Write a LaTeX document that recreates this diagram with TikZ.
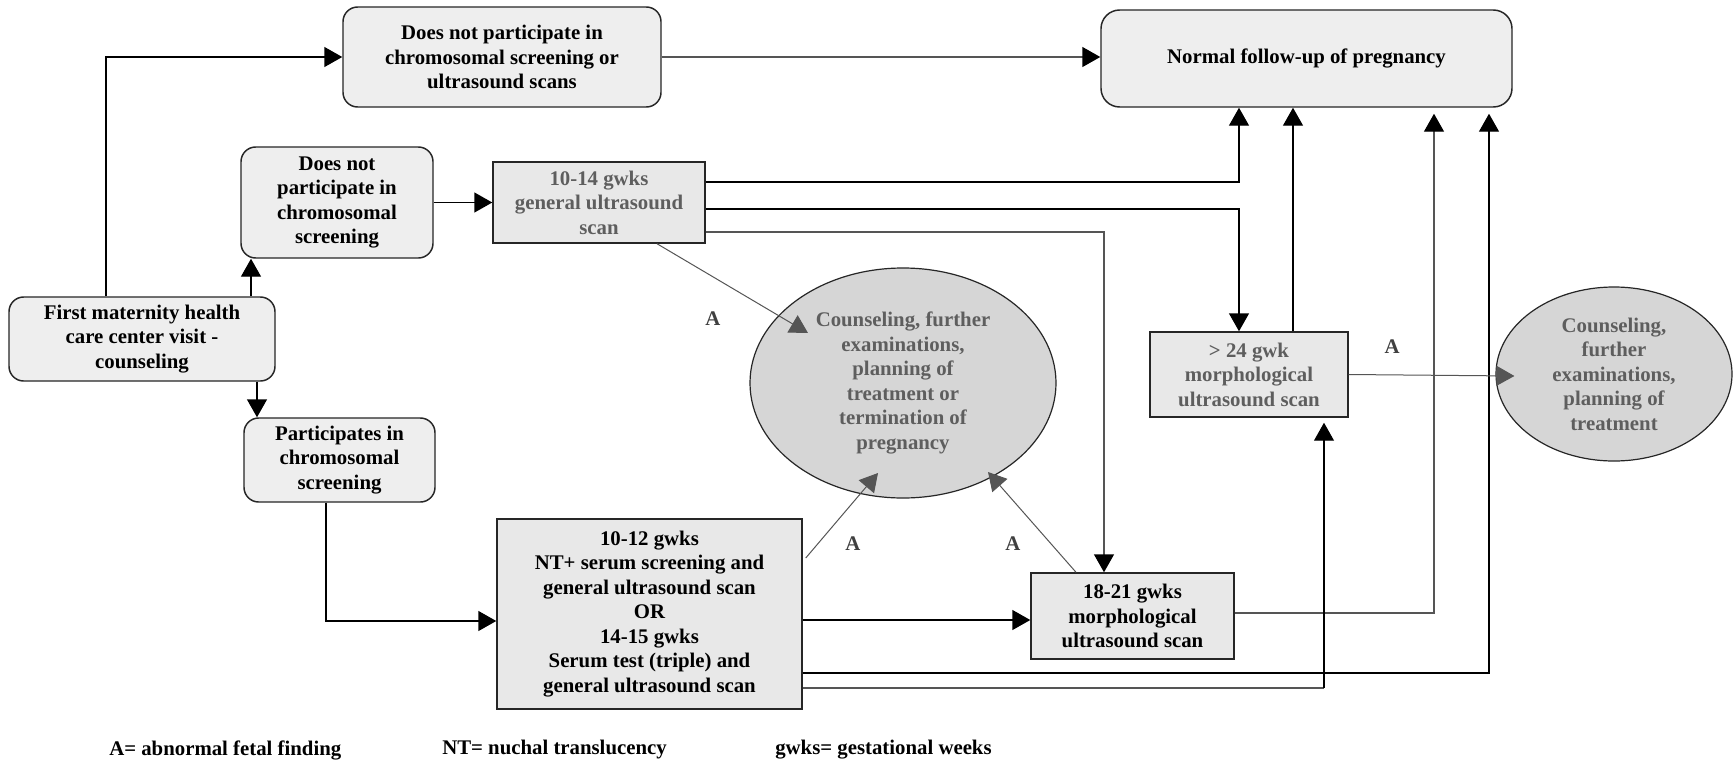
\documentclass[tikz,border=0pt]{standalone}
\usepackage{fontspec}
\setmainfont{Liberation Serif}
\usetikzlibrary{arrows.meta,calc,shapes.geometric}
\definecolor{rfill}{HTML}{EEEEEE}
\definecolor{sfill}{HTML}{E8E8E8}
\definecolor{efill}{HTML}{D6D6D6}
\definecolor{gtext}{HTML}{5E5E5E}
\definecolor{glinec}{HTML}{555555}
\begin{document}
\begin{tikzpicture}[x=0.75pt,y=-0.75pt,
  base/.style={font=\fontsize{15.6}{18.4}\selectfont\bfseries, align=center, inner sep=0pt, line width=1.1pt, draw=black!85},
  rbox/.style={base, rounded corners=11pt, fill=rfill},
  sbox/.style={base, fill=sfill},
  ebox/.style={base, ellipse, fill=efill, text=gtext, line width=0.9pt},
  arr/.style={line width=1.1pt, -{Triangle[length=13.5pt,width=15pt,color=black]}},
  gconn/.style={draw=glinec},
  garr/.style={line width=0.75pt, draw=glinec, -{Triangle[length=13.5pt,width=15pt]}, glinec},
  lab/.style={font=\fontsize{15.6}{18.4}\selectfont\bfseries, text=black!75, inner sep=0pt},
  legend/.style={font=\fontsize{15.6}{18.4}\selectfont\bfseries, inner sep=0pt, anchor=west}
]
\useasboundingbox (0,0) rectangle (1736,764);
\fill[white] (0,0) rectangle (1736,764);

% nodes
\node[rbox, minimum width=199.5pt, minimum height=63pt] (first) at (142,339) {First maternity health\\care center visit -\\counseling};
\node[rbox, minimum width=144pt, minimum height=83.25pt] (dnpc) at (337,202.5) {Does not\\participate in\\chromosomal\\screening};
\node[rbox, minimum width=238.5pt, minimum height=75pt] (dnpall) at (502,57) {Does not participate in\\chromosomal screening or\\ultrasound scans};
\node[sbox, text=gtext, minimum width=159pt, minimum height=60.75pt] (us1014) at (599,202.5) {10-14 gwks\\general ultrasound\\scan};
\node[rbox, rounded corners=14pt, minimum width=308.25pt, minimum height=72.75pt] (normal) at (1306.5,58.5) {Normal follow-up of pregnancy};
\node[ebox, minimum width=229.5pt, minimum height=172.5pt] (ell1) at (903,383) {Counseling, further\\examinations,\\planning of\\treatment or\\termination of\\pregnancy};
\node[sbox, text=gtext, minimum width=148.5pt, minimum height=63.75pt] (m24) at (1249,374.5) {> 24 gwk\\morphological\\ultrasound scan};
\node[ebox, minimum width=177pt, minimum height=130.5pt] (ell2) at (1614,374) {Counseling,\\further\\examinations,\\planning of\\treatment};
\node[rbox, minimum width=143.25pt, minimum height=63pt] (part) at (339.5,460) {Participates in\\chromosomal\\screening};
\node[sbox, minimum width=228.75pt, minimum height=142.5pt] (big) at (649.5,614) {10-12 gwks\\NT+ serum screening and\\general ultrasound scan\\OR\\14-15 gwks\\Serum test (triple) and\\general ultrasound scan};
\node[sbox, minimum width=152.25pt, minimum height=64.5pt] (m1821) at (1132.5,616) {18-21 gwks\\morphological\\ultrasound scan};

% connectors
\draw[arr] ($(first.north)+(-36,0)$) |- (dnpall.west);
\draw[arr] ($(first.north)+(109,0)$) -- ($(dnpc.south)+(-86,0)$);
\draw[arr] ($(first.south)+(115,0)$) -- ($(part.north)+(-82.5,0)$);
\draw[arr] (dnpc.east) -- (us1014.west);
\draw[arr, gconn] (dnpall.east) -- (dnpall.east -| normal.west);
\draw[arr] ($(us1014.east)+(0,-20.5)$) -| ($(normal.south)+(-67.5,0)$);
\draw[arr] ($(us1014.east)+(0,6.5)$) -| ($(m24.north)+(-10,0)$);
\draw[arr, gconn] ($(us1014.east)+(0,29.5)$) -| ($(m1821.north)+(-28.5,0)$);
\draw[arr] ($(m24.north)+(44,0)$) -- ($(normal.south)+(-13.5,0)$);
\draw[arr, gconn] ($(m1821.east)+(0,-3)$) -| ($(normal.south)+(127.5,6)$);
\draw[arr] ($(big.east)+(0,59)$) -| ($(normal.south)+(182.5,6)$);
\coordinate (corner) at ($(m24.south)+(75,0)$);
\draw[gconn, line width=1.5pt] ($(big.east)+(0,74)$) -| (corner |- 0,688) coordinate (bend);
\draw[arr, line width=0.8pt] (bend) -- ($(m24.south)+(75,5)$);
\draw[arr] ($(big.east)+(0,6)$) -- ($(m1821.west)+(0,4)$);
\draw[arr] ($(part.south)+(-13.5,0)$) |- ($(big.west)+(0,7)$);

% abnormal-finding arrows
\draw[garr] ($(us1014.south)+(58,0)$) -- ($(ell1.center)+(-95,-50)$);
\draw[garr] ($(big.east)+(3,-56)$) -- ($(ell1.center)+(-25,90)$);
\draw[garr] ($(m1821.north)+(-56.5,0)$) -- ($(ell1.center)+(85,89)$);
\draw[garr] (m24.east) -- ($(ell2.west)+(19,2)$);

% labels
\node[lab] (a1) at (713,319) {A};
\node[lab] (a2) at (853,544) {A};
\node[lab] (a3) at (1013,544) {A};
\node[lab] (a4) at (1392,347) {A};

% legend
\node[legend] (l1) at (109,750) {A= abnormal fetal finding};
\node[legend] (l2) at (442,750) {NT= nuchal translucency};
\node[legend] (l3) at (775,750) {gwks= gestational weeks};
\end{tikzpicture}
\end{document}
